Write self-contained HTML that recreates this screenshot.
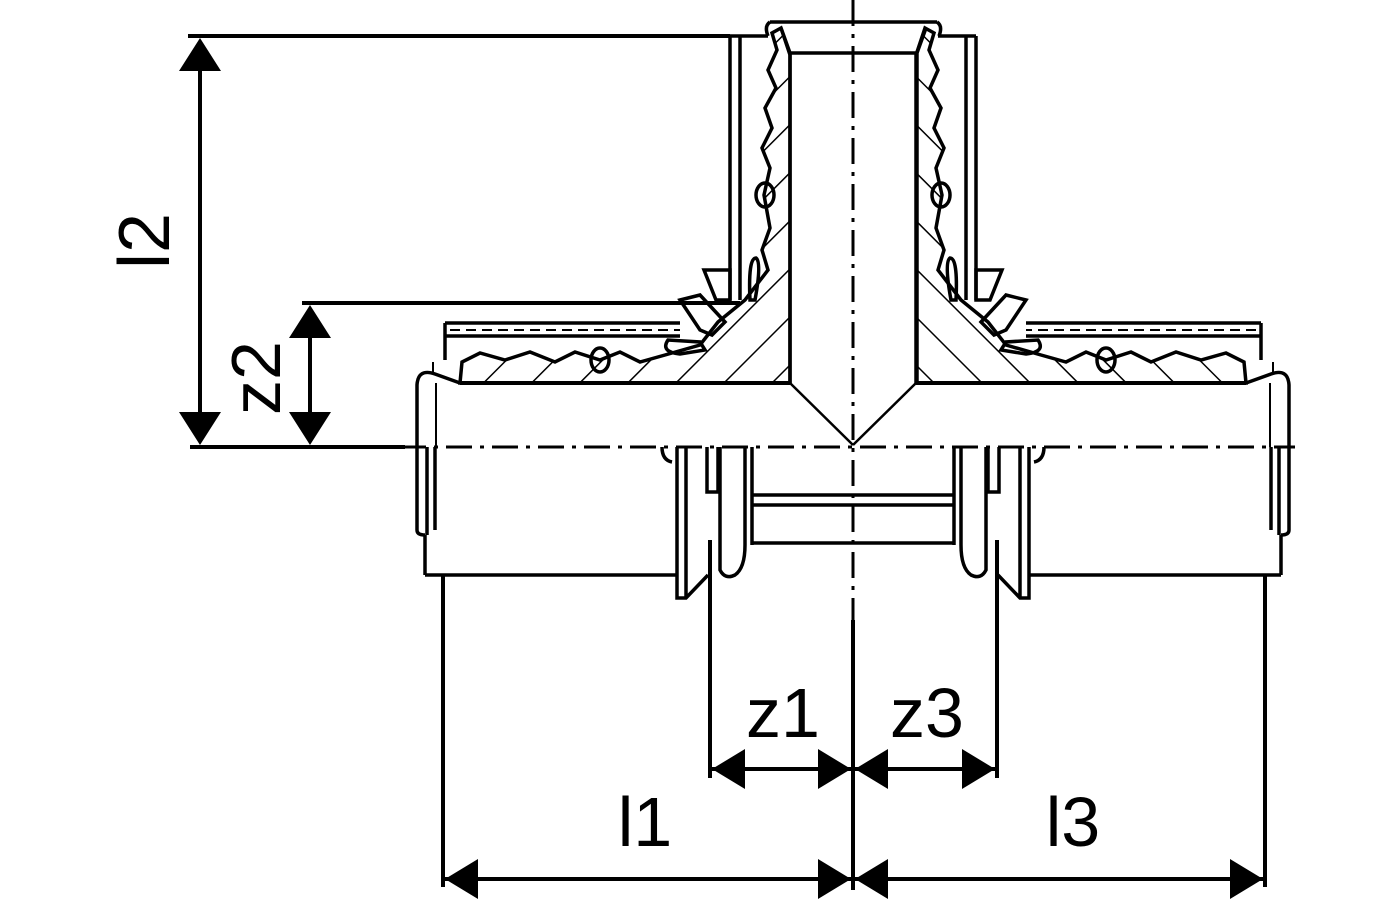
<!DOCTYPE html>
<html><head><meta charset="utf-8"><style>
html,body{margin:0;padding:0;background:#fff}
svg{display:block}
text{font-family:"Liberation Sans",Arial,sans-serif;fill:#000}
</style></head><body>
<svg width="1400" height="900" viewBox="0 0 1400 900" xmlns="http://www.w3.org/2000/svg">
<defs>
<pattern id="h" patternUnits="userSpaceOnUse" width="34" height="34" patternTransform="rotate(45)">
<line x1="0" y1="0" x2="0" y2="34" stroke="#000" stroke-width="3"/>
</pattern>
<g id="half">
  <path d="M790,383 L790,55 L781,28 L772,33 L777,50 L768,70 L776,88 L765,108 L772,128 L762,148 L770,168 L764,195 L770,228 L762,250 L768,270 L745,300 L718,322 L700,345 L665,355 L640,362 L620,352 L600,360 L575,352 L555,362 L530,352 L505,360 L480,353 L462,362 L460,383 Z" fill="url(#h)" stroke="#000" stroke-width="3.5"/>
  <path d="M730,36 L730,300 M740,36 L740,300 M730,36 L768,36" stroke="#000" stroke-width="3.5" fill="none"/>
  <path d="M704,270 L730,270 L730,300 L716,300 Z" fill="none" stroke="#000" stroke-width="3.5"/>
  <ellipse cx="765" cy="195" rx="9" ry="12" fill="none" stroke="#000" stroke-width="3.5"/>
  <path d="M750,300 Q748,258 756,258 Q762,262 755,300 Z" fill="none" stroke="#000" stroke-width="3.5"/>
  <path d="M445,323 L680,323 M445,336 L680,336 M445,323 L445,360" stroke="#000" stroke-width="3.5" fill="none"/>
  <line x1="450" y1="330" x2="680" y2="330" stroke="#000" stroke-width="2" stroke-dasharray="10,6"/>
  <path d="M680,300 L700,295 L725,322 L712,335 L700,330 Z" fill="none" stroke="#000" stroke-width="3.5"/>
  <path d="M668,340 Q660,352 680,354 L705,350 L700,342 Z" fill="none" stroke="#000" stroke-width="3.5"/>
  <ellipse cx="600" cy="360" rx="9" ry="12" fill="none" stroke="#000" stroke-width="3.5"/>
  <path d="M460,383 L435,374 Q418,368 417,385 L417,530 Q417,535 425,535" stroke="#000" stroke-width="3.5" fill="none"/>
  <path d="M433,362 L433,372 M436,383 L436,447" stroke="#000" stroke-width="2" fill="none"/>
  <path d="M427,447 L427,535 M435,447 L435,530 M425,535 L425,575" stroke="#000" stroke-width="3.5" fill="none"/>
  <line x1="460" y1="383" x2="790" y2="383" stroke="#000" stroke-width="4"/>
  <line x1="790" y1="383" x2="853" y2="445" stroke="#000" stroke-width="2.5"/>
  <line x1="425" y1="575" x2="677" y2="575" stroke="#000" stroke-width="3.5"/>
  <path d="M677,447 L677,598 L686,598 L708,575 M686,447 L686,598" stroke="#000" stroke-width="3.5" fill="none"/>
  <path d="M662,447 Q662,460 672,462" stroke="#000" stroke-width="3.5" fill="none"/>
  <path d="M707,447 L707,492 L718,492 L718,447 M720,447 L720,570 Q725,580 735,575 Q745,568 745,545" stroke="#000" stroke-width="3.5" fill="none"/>
  <path d="M745,447 L745,545 M752,447 L752,545" stroke="#000" stroke-width="3.5" fill="none"/>
</g>
</defs>

<use href="#half"/>
<use href="#half" transform="translate(1706,0) scale(-1,1)"/>

<path d="M770,22 L937,22 M781,28 L790,53 L917,53 L926,28 M790,53 L790,383 M917,53 L917,383" stroke="#000" stroke-width="3.5" fill="none"/>
<path d="M770,22 Q764,26 768,36 M937,22 Q943,26 939,36" stroke="#000" stroke-width="3.5" fill="none"/>
<path d="M752,495 L955,495 M752,505 L955,505 M752,543 L955,543" stroke="#000" stroke-width="3.5" fill="none"/>

<line x1="853" y1="0" x2="853" y2="620" stroke="#000" stroke-width="3" stroke-dasharray="26,8,4,8"/>
<line x1="400" y1="447" x2="1295" y2="447" stroke="#000" stroke-width="3" stroke-dasharray="26,8,4,8"/>

<g stroke="#000" stroke-width="4" fill="none">
  <line x1="188" y1="36" x2="730" y2="36"/>
  <line x1="190" y1="447" x2="405" y2="447"/>
  <line x1="302" y1="303" x2="740" y2="303"/>
  <line x1="200" y1="60" x2="200" y2="420"/>
  <line x1="310" y1="330" x2="310" y2="420"/>
  <line x1="443" y1="575" x2="443" y2="887"/>
  <line x1="1265" y1="575" x2="1265" y2="887"/>
  <line x1="853" y1="620" x2="853" y2="890"/>
  <line x1="710" y1="540" x2="710" y2="778"/>
  <line x1="997" y1="540" x2="997" y2="778"/>
  <line x1="443" y1="879" x2="1265" y2="879"/>
  <line x1="710" y1="769" x2="997" y2="769"/>
</g>
<g fill="#000">
  <polygon points="200,38 179,71 221,71"/>
  <polygon points="200,445 179,412 221,412"/>
  <polygon points="310,305 289,338 331,338"/>
  <polygon points="310,445 289,412 331,412"/>
  <polygon points="445,879 478,859 478,899"/>
  <polygon points="851,879 818,859 818,899"/>
  <polygon points="855,879 888,859 888,899"/>
  <polygon points="1263,879 1230,859 1230,899"/>
  <polygon points="712,769 745,749 745,789"/>
  <polygon points="851,769 818,749 818,789"/>
  <polygon points="855,769 888,749 888,789"/>
  <polygon points="995,769 962,749 962,789"/>
</g>
<text x="645" y="846" font-size="70" text-anchor="middle">l1</text>
<text x="1073" y="846" font-size="70" text-anchor="middle">l3</text>
<text x="783" y="737" font-size="70" text-anchor="middle">z1</text>
<text x="927" y="737" font-size="70" text-anchor="middle">z3</text>
<text transform="translate(169,241) rotate(-90)" font-size="72" text-anchor="middle">l2</text>
<text transform="translate(280,378) rotate(-90)" font-size="70" text-anchor="middle">z2</text>
</svg>
</body></html>
